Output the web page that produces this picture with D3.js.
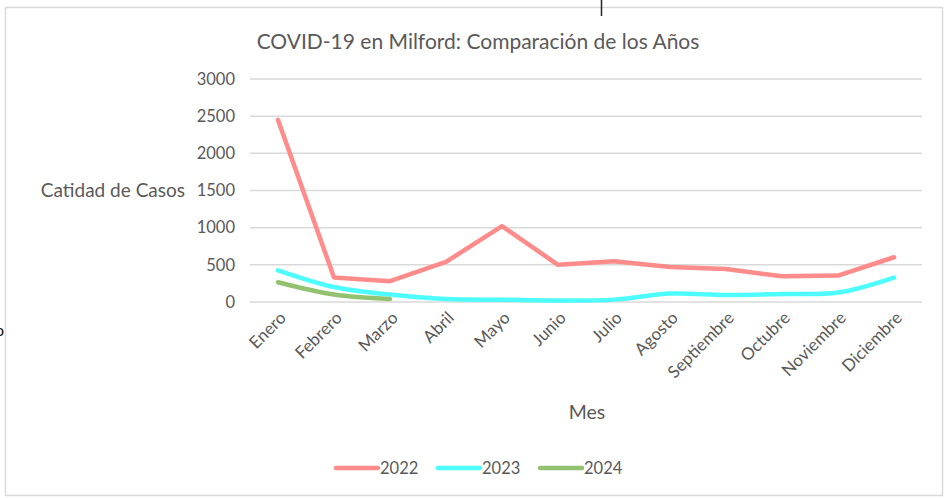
<!DOCTYPE html>
<html><head><meta charset="utf-8">
<script src="https://cdn.jsdelivr.net/npm/d3@7/dist/d3.min.js"></script>
<style>body{margin:0;background:#fff;} text{font-family:"Lato","Open Sans",sans-serif;}</style>
</head><body>
<script>
const months = ["Enero","Febrero","Marzo","Abril","Mayo","Junio","Julio","Agosto","Septiembre","Octubre","Noviembre","Diciembre"];
const s2022 = [2450, 330, 280, 540, 1020, 500, 548, 470, 445, 346, 355, 602];
const s2023 = [427, 202, 100, 40, 30, 20, 32, 113, 94, 108, 127, 329];
const s2024 = [265, 100, 40];
const yTicks = [0, 500, 1000, 1500, 2000, 2500, 3000];
const seriesNames = ["2022","2023","2024"];
const colors = ["#ff8b8b","#4dfcff","#92c26f"];

const W = 948, H = 498;
const svg = d3.select("body").append("svg").attr("width", W).attr("height", H);
svg.append("rect").attr("x",5.5).attr("y",7.5).attr("width",937).attr("height",488)
  .attr("fill","#fff").attr("stroke","#d9d9d9").attr("stroke-width",1.5);
// screenshot artifacts
svg.append("line").attr("x1",601.5).attr("x2",601.5).attr("y1",0).attr("y2",16).attr("stroke","#222").attr("stroke-width",1.5);
svg.append("text").attr("x",-5).attr("y",336).attr("font-size",16).attr("fill","#111").text("o");

const x = d3.scaleBand().domain(months).range([250, 922]);
const y = d3.scaleLinear().domain([0, 3000]).range([302, 79]);

// gridlines
svg.append("g").selectAll("line").data(yTicks).join("line")
  .attr("x1",250).attr("x2",922).attr("y1",d=>y(d)).attr("y2",d=>y(d))
  .attr("stroke","#d9d9d9").attr("stroke-width",1.5);

// y axis
const ya = svg.append("g").attr("transform","translate(250,0)")
  .call(d3.axisLeft(y).tickValues(yTicks).tickSize(0).tickPadding(15).tickFormat(d3.format("d")));
ya.select(".domain").remove();
ya.selectAll("text").attr("font-size",16.5).attr("fill","#595959").style("font-family","Lato");

// x axis
const xa = svg.append("g").attr("transform","translate(0,302)")
  .call(d3.axisBottom(x).tickSize(0).tickPadding(0));
xa.select(".domain").remove();
xa.selectAll("text").attr("font-size",17).attr("fill","#595959").style("font-family","Lato")
  .attr("text-anchor","end").attr("dy",0).attr("transform","translate(9,17) rotate(-45)");

// lines
const cx = d => x(d) + x.bandwidth()/2;
const data = [s2022, s2023, s2024];
const curves = [d3.curveLinear, d3.curveCatmullRom.alpha(0.5), d3.curveCatmullRom.alpha(0.5)];
data.forEach((s, i) => {
  const line = d3.line().x((d, j) => cx(months[j])).y(d => y(d)).curve(curves[i]);
  svg.append("path").datum(s).attr("d", line).attr("fill","none")
    .attr("stroke", colors[i]).attr("stroke-width",4.5).attr("stroke-linejoin","round").attr("stroke-linecap","round");
});

// title
svg.append("text").attr("x",478).attr("y",49).attr("text-anchor","middle").attr("font-size",21)
  .attr("fill","#595959").text("COVID-19 en Milford: Comparación de los Años");
// axis titles
svg.append("text").attr("x",185).attr("y",197).attr("text-anchor","end").attr("font-size",19)
  .attr("fill","#595959").text("Catidad de Casos");
svg.append("text").attr("x",587).attr("y",419).attr("text-anchor","middle").attr("font-size",19.5)
  .attr("fill","#595959").text("Mes");

// legend
const legX = [336, 438, 540];
const lg = svg.append("g").selectAll("g").data(seriesNames).join("g")
  .attr("transform",(d,i)=>`translate(${legX[i]},468)`);
lg.append("line").attr("x1",0).attr("x2",42).attr("y1",0).attr("y2",0)
  .attr("stroke",(d,i)=>colors[i]).attr("stroke-width",4.5).attr("stroke-linecap","round");
lg.append("text").attr("x",44).attr("y",6).attr("font-size",16.5).attr("fill","#595959").text(d=>d);
</script>
</body></html>
